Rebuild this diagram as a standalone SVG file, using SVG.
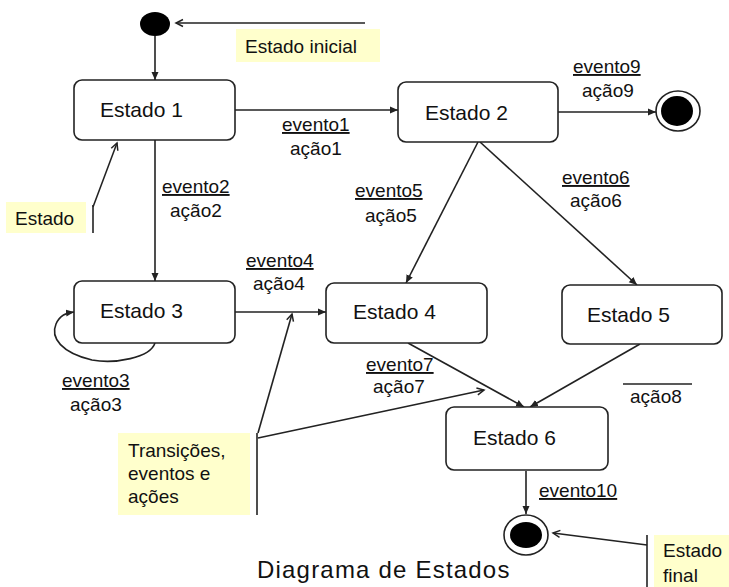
<svg xmlns="http://www.w3.org/2000/svg" width="729" height="587" viewBox="0 0 729 587">
<style>
.box{fill:#fff;stroke:#222;stroke-width:1.6}
.ln{fill:none;stroke:#222;stroke-width:1.6}
.nl{fill:none;stroke:#222;stroke-width:1.6}
.note{fill:#ffffcc;stroke:none}
.st{font-family:"Liberation Sans",Arial,sans-serif;font-size:21px;fill:#111}
.lb{font-family:"Liberation Sans",Arial,sans-serif;font-size:19px;fill:#111}
.ev{text-decoration:underline}
.nt{font-family:"Liberation Sans",Arial,sans-serif;font-size:19px;fill:#111}
.ti{font-family:"Liberation Sans",Arial,sans-serif;font-size:24px;fill:#111;letter-spacing:1.2px}
</style>
<defs>
<marker id="ah" markerUnits="userSpaceOnUse" markerWidth="9" markerHeight="8" refX="8" refY="4" orient="auto">
<path d="M0,0.5 L8,4 L0,7.5 z" fill="#222"/>
</marker>
<marker id="oh" markerUnits="userSpaceOnUse" markerWidth="10" markerHeight="10" refX="8" refY="5" orient="auto">
<path d="M1,1.5 L8,5 L1,8.5" fill="none" stroke="#222" stroke-width="1.5"/>
</marker>
</defs>

<g id="notes">
<g id="note-inicial">
<rect class="note" x="236" y="29" width="144" height="33"/>
<text class="nt" x="245" y="53">Estado inicial</text>
<line class="nl" x1="365" y1="23" x2="176" y2="23" marker-end="url(#oh)"/>
</g>
<g id="note-estado">
<rect class="note" x="6" y="202" width="80" height="31"/>
<text class="nt" x="15" y="225">Estado</text>
<line class="nl" x1="93" y1="205" x2="93" y2="233"/>
<line class="nl" x1="93" y1="207" x2="117" y2="143" marker-end="url(#oh)"/>
</g>
<g id="note-transicoes">
<rect class="note" x="118" y="433" width="132" height="82"/>
<text class="nt" x="128" y="457">Transições,</text>
<text class="nt" x="128" y="480">eventos e</text>
<text class="nt" x="128" y="503">ações</text>
<line class="nl" x1="257" y1="433" x2="257" y2="515"/>
<line class="nl" x1="258" y1="433" x2="292" y2="314" marker-end="url(#oh)"/>
<line class="nl" x1="258" y1="438" x2="484" y2="390" marker-end="url(#oh)"/>
</g>
<g id="note-final">
<rect class="note" x="654" y="535" width="75" height="52"/>
<text class="nt" x="663" y="557">Estado</text>
<text class="nt" x="663" y="582">final</text>
<line class="nl" x1="647" y1="535" x2="647" y2="587"/>
<line class="nl" x1="647" y1="545" x2="553" y2="533" marker-end="url(#oh)"/>
</g>
</g>

<g id="connectors">
<line class="ln" x1="155" y1="36" x2="155" y2="80" marker-end="url(#ah)"/>
<line class="ln" x1="235" y1="110" x2="398" y2="110" marker-end="url(#ah)"/>
<line class="ln" x1="558" y1="112" x2="656" y2="112" marker-end="url(#ah)"/>
<line class="ln" x1="155" y1="140" x2="155" y2="281" marker-end="url(#ah)"/>
<path class="ln" d="M155,343 C150,358 115,364 92,360 C62,353 50,338 56,324 C60,315 66,313 74,312" marker-end="url(#ah)"/>
<line class="ln" x1="235" y1="312" x2="326" y2="312" marker-end="url(#ah)"/>
<line class="ln" x1="478" y1="142" x2="406" y2="283" marker-end="url(#ah)"/>
<line class="ln" x1="480" y1="142" x2="637" y2="285" marker-end="url(#ah)"/>
<line class="ln" x1="408" y1="343" x2="524" y2="407" marker-end="url(#ah)"/>
<line class="ln" x1="640" y1="344" x2="530" y2="407" marker-end="url(#ah)"/>
<line class="ln" x1="526" y1="471" x2="526" y2="514" marker-end="url(#ah)"/>
</g>

<g id="labels">
<text class="lb ev" x="282" y="131">evento1</text>
<text class="lb" x="290" y="155">ação1</text>
<text class="lb ev" x="162" y="193">evento2</text>
<text class="lb" x="170" y="217">ação2</text>
<text class="lb ev" x="62" y="387">evento3</text>
<text class="lb" x="70" y="411">ação3</text>
<text class="lb ev" x="246" y="267">evento4</text>
<text class="lb" x="253" y="290">ação4</text>
<text class="lb ev" x="355" y="197">evento5</text>
<text class="lb" x="365" y="222">ação5</text>
<text class="lb ev" x="562" y="184">evento6</text>
<text class="lb" x="570" y="207">ação6</text>
<text class="lb ev" x="366" y="371">evento7</text>
<text class="lb" x="373" y="393">ação7</text>
<line class="ln" x1="623" y1="384" x2="692" y2="384"/>
<text class="lb" x="630" y="403">ação8</text>
<text class="lb ev" x="573" y="73">evento9</text>
<text class="lb" x="582" y="97">ação9</text>
<text class="lb ev" x="539" y="497">evento10</text>
</g>

<g id="inicial">
<ellipse cx="155" cy="24" rx="15" ry="12" fill="#000"/>
</g>
<g id="estado1">
<rect class="box" x="74" y="80" width="161" height="60" rx="8"/>
<text class="st" x="100" y="117">Estado 1</text>
</g>
<g id="estado2">
<rect class="box" x="398" y="82" width="160" height="60" rx="8"/>
<text class="st" x="425" y="120">Estado 2</text>
</g>
<g id="estado3">
<rect class="box" x="74" y="281" width="161" height="62" rx="8"/>
<text class="st" x="100" y="318">Estado 3</text>
</g>
<g id="estado4">
<rect class="box" x="326" y="283" width="161" height="60" rx="8"/>
<text class="st" x="353" y="319">Estado 4</text>
</g>
<g id="estado5">
<rect class="box" x="562" y="285" width="160" height="59" rx="8"/>
<text class="st" x="587" y="322">Estado 5</text>
</g>
<g id="estado6">
<rect class="box" x="446" y="407" width="162" height="63" rx="8"/>
<text class="st" x="473" y="445">Estado 6</text>
</g>
<g id="final1">
<ellipse cx="678" cy="111" rx="22" ry="20" fill="#fff" stroke="#222" stroke-width="1.6"/>
<ellipse cx="677" cy="111" rx="16" ry="15" fill="#000"/>
</g>
<g id="final2">
<ellipse cx="526" cy="535" rx="22" ry="20" fill="#fff" stroke="#222" stroke-width="1.6"/>
<ellipse cx="526" cy="535" rx="16" ry="13" fill="#000"/>
</g>

<text class="ti" x="257" y="578">Diagrama de Estados</text>
</svg>
